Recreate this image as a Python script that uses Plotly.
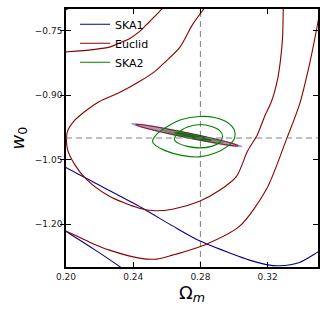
import plotly.graph_objects as go

# ---------------- data ----------------
omega_fid = 0.28
w0_fid = -1.0

x_ticks = [0.20, 0.24, 0.28, 0.32]
x_ticklabels = ["0.20", "0.24", "0.28", "0.32"]
y_ticks = [-0.75, -0.90, -1.05, -1.20]
y_ticklabels = ["\u22120.75", "\u22120.90", "\u22121.05", "\u22121.20"]

# SKA1 contours (dark blue)
ska1_in_om = [0.1961, 0.2001, 0.2199, 0.2448, 0.2634, 0.2795, 0.2991, 0.3092, 0.3193, 0.3271, 0.3390, 0.3489, 0.3521]
ska1_in_w = [-1.0613, -1.0689, -1.1100, -1.1617, -1.2044, -1.2392, -1.2700, -1.2840, -1.2944, -1.2972, -1.2893, -1.2677, -1.2596]
ska1_out_om = [0.1961, 0.2001, 0.2170, 0.2318, 0.2348]
ska1_out_w = [-1.2074, -1.2174, -1.2596, -1.2986, -1.3072]
ska1_corner_om = [0.1950, 0.2005, 0.2030]
ska1_corner_w = [-0.7120, -0.7008, -0.6950]

# Euclid contours (dark red)
euc_in_om = [0.2824, 0.2753, 0.2676, 0.2586, 0.2527, 0.2437, 0.2318, 0.2199, 0.2128, 0.2051, 0.2009,
             0.2003, 0.2009, 0.2051, 0.2122, 0.2259, 0.2437, 0.2527, 0.2634, 0.2795, 0.2914, 0.3015,
             0.3080, 0.3140, 0.3182, 0.3223, 0.3259, 0.3277, 0.3289, 0.3293]
euc_in_w = [-0.6980, -0.7364, -0.7898, -0.8246, -0.8455, -0.8687, -0.8942, -0.9151, -0.9337, -0.9592, -0.9847,
            -1.0033, -1.0265, -1.0613, -1.0961, -1.1355, -1.1634, -1.1691, -1.1656, -1.1471, -1.1216, -1.0891,
            -1.0311, -0.9917, -0.9499, -0.9151, -0.8640, -0.8176, -0.7666, -0.6980]
euc_out_low_om = [0.1961, 0.2001, 0.2140, 0.2259, 0.2437, 0.2539, 0.2634, 0.2836, 0.3033, 0.3193, 0.3312,
                  0.3390, 0.3449, 0.3489, 0.3515]
euc_out_low_w = [-1.2132, -1.2167, -1.2422, -1.2608, -1.2793, -1.2817, -1.2724, -1.2469, -1.2051, -1.1193, -1.0033,
                 -0.9220, -0.8292, -0.7527, -0.6970]
euc_out_top_om = [0.1961, 0.2001, 0.2158, 0.2259, 0.2318, 0.2378, 0.2437, 0.2479, 0.2527, 0.2576]
euc_out_top_w = [-0.8009, -0.7998, -0.7944, -0.7886, -0.7789, -0.7690, -0.7527, -0.7364, -0.7179, -0.6977]

# SKA2 contours (green)
ska2_out_om = [0.2515, 0.2545, 0.2604, 0.2688, 0.2795, 0.2884, 0.2961, 0.3003, 0.3003, 0.2961, 0.2884,
               0.2795, 0.2688, 0.2586, 0.2533, 0.2515]
ska2_out_w = [-1.0079, -0.9894, -0.9731, -0.9569, -0.9499, -0.9522, -0.9638, -0.9824, -1.0010, -1.0195, -1.0357,
              -1.0439, -1.0404, -1.0288, -1.0172, -1.0079]
ska2_in_om = [0.2646, 0.2664, 0.2723, 0.2801, 0.2866, 0.2914, 0.2932, 0.2914, 0.2866, 0.2795, 0.2723, 0.2670, 0.2646]
ska2_in_w = [-1.0044, -0.9894, -0.9743, -0.9685, -0.9731, -0.9824, -0.9963, -1.0102, -1.0195, -1.0230, -1.0195,
             -1.0125, -1.0044]

# combined (filled) thin ellipses
comb_blue_om = [0.2390, 0.24229, 0.24887, 0.25874, 0.2719, 0.28506, 0.29493, 0.30151, 0.3048,
                0.30151, 0.29493, 0.28506, 0.2719, 0.25874, 0.24887, 0.24229, 0.2390]
comb_blue_w = [-0.9668, -0.9667, -0.9702, -0.9768, -0.9869, -0.9980, -1.0074, -1.0145, -1.0200,
               -1.0201, -1.0166, -1.0100, -0.9999, -0.9888, -0.9794, -0.9723, -0.9668]
comb_red_om = [0.2415, 0.24455, 0.25065, 0.2598, 0.2720, 0.2842, 0.29335, 0.29945, 0.3025,
               0.29945, 0.29335, 0.2842, 0.2720, 0.2598, 0.25065, 0.24455, 0.2415]
comb_red_w = [-0.9688, -0.9689, -0.9723, -0.9786, -0.9880, -0.9983, -1.0068, -1.0133, -1.0181,
              -1.0181, -1.0146, -1.0083, -0.9990, -0.9886, -0.9801, -0.9737, -0.9688]
comb_g2_om = [0.2575, 0.26276, 0.26842, 0.2757, 0.28298, 0.28844, 0.2939,
              0.28844, 0.28298, 0.2757, 0.26842, 0.26276, 0.2575]
comb_g2_w = [-0.9818, -0.9824, -0.9860, -0.9915, -0.9978, -1.0032, -1.0112,
             -1.0104, -1.0070, -1.0015, -0.9952, -0.9896, -0.9818]
comb_g1_om = [0.2646, 0.2679, 0.2712, 0.2756, 0.2800, 0.2833, 0.2866,
              0.2833, 0.2800, 0.2756, 0.2712, 0.2679, 0.2646]
comb_g1_w = [-0.9875, -0.9877, -0.9896, -0.9929, -0.9968, -1.0001, -1.0053,
             -1.0051, -1.0032, -0.9999, -0.9960, -0.9927, -0.9875]

x_range = [0.20, 0.35]
y_range = [-1.30, -0.70]

# ---------------- figure ----------------
BLUE = "#00008B"
RED = "#8B0000"
GREEN = "#008000"
FONT = "DejaVu Sans"

fig = go.Figure()

# fiducial dashed lines
fig.add_trace(go.Scatter(x=[omega_fid, omega_fid], y=y_range, mode="lines",
                         line=dict(color="#808080", width=1, dash="6px,4px"),
                         showlegend=False, hoverinfo="skip"))
fig.add_trace(go.Scatter(x=x_range, y=[w0_fid, w0_fid], mode="lines", yaxis="y2",
                         line=dict(color="#808080", width=1, dash="6px,4px"),
                         showlegend=False, hoverinfo="skip"))

def curve(xs, ys, color, name, show, width=1.1):
    fig.add_trace(go.Scatter(x=xs, y=ys, mode="lines", name=name, legendgroup=name,
                             showlegend=show,
                             line=dict(color=color, width=width, shape="spline", smoothing=0.8)))

curve(ska1_in_om, ska1_in_w, BLUE, "SKA1", True)
curve(ska1_out_om, ska1_out_w, BLUE, "SKA1", False)
curve(ska1_corner_om, ska1_corner_w, BLUE, "SKA1", False)

curve(euc_in_om, euc_in_w, RED, "Euclid", True)
curve(euc_out_low_om, euc_out_low_w, RED, "Euclid", False)
curve(euc_out_top_om, euc_out_top_w, RED, "Euclid", False)

# filled combined ellipses
fig.add_trace(go.Scatter(x=comb_blue_om, y=comb_blue_w, mode="lines", fill="toself",
                         fillcolor="rgba(0,0,139,0.28)",
                         line=dict(color="rgba(60,60,200,0.6)", width=0.6, shape="spline"),
                         showlegend=False, hoverinfo="skip"))
fig.add_trace(go.Scatter(x=comb_red_om, y=comb_red_w, mode="lines", fill="toself",
                         fillcolor="rgba(170,40,70,0.25)",
                         line=dict(color=RED, width=0.9, shape="spline"),
                         showlegend=False, hoverinfo="skip"))
fig.add_trace(go.Scatter(x=comb_g2_om, y=comb_g2_w, mode="lines", fill="toself",
                         fillcolor="rgba(0,128,0,0.35)",
                         line=dict(color="rgba(0,128,0,0.5)", width=0.5, shape="spline"),
                         showlegend=False, hoverinfo="skip"))
fig.add_trace(go.Scatter(x=comb_g1_om, y=comb_g1_w, mode="lines", fill="toself",
                         fillcolor="rgba(0,110,0,0.85)",
                         line=dict(color="rgba(0,100,0,0.9)", width=0.5, shape="spline"),
                         showlegend=False, hoverinfo="skip"))

curve(ska2_out_om, ska2_out_w, GREEN, "SKA2", True)
curve(ska2_in_om, ska2_in_w, GREEN, "SKA2", False)

axis_common = dict(showline=True, linecolor="black", linewidth=1.6, mirror="ticks",
                   ticks="inside", ticklen=5, tickwidth=1, tickcolor="black",
                   showgrid=False, zeroline=False, automargin=False,
                   tickfont=dict(family=FONT, size=9, color="#222"))

fig.update_layout(
    width=327, height=311,
    margin=dict(l=66, r=9, t=9, b=44, autoexpand=False),
    paper_bgcolor="white", plot_bgcolor="white",
    font=dict(family=FONT, color="black"),
    xaxis=dict(range=x_range, tickvals=x_ticks, ticktext=x_ticklabels,
               title=dict(text="\u03a9<sub><i>m</i></sub>", font=dict(size=18, family=FONT), standoff=0),
               **axis_common),
    yaxis=dict(range=y_range, tickvals=y_ticks, ticktext=y_ticklabels,
               title=dict(text="<i>w</i><sub>0</sub>", font=dict(size=18, family=FONT), standoff=6),
               **axis_common),
    # companion axis that only adds the outward half of the left tick marks
    yaxis2=dict(overlaying="y", side="left", range=y_range, tickvals=y_ticks,
                ticks="outside", ticklen=5, tickwidth=1, tickcolor="black",
                showticklabels=False, showline=False, showgrid=False, zeroline=False,
                automargin=False),
    legend=dict(x=0.036, y=0.997, xanchor="left", yanchor="top",
                bgcolor="rgba(0,0,0,0)", borderwidth=0,
                font=dict(family=FONT, size=11, color="black"), tracegroupgap=0),
    showlegend=True,
)

fig.write_html("out.html", config={"displayModeBar": False},
               post_script="document.body.style.margin='0px';document.body.style.padding='0px';")
